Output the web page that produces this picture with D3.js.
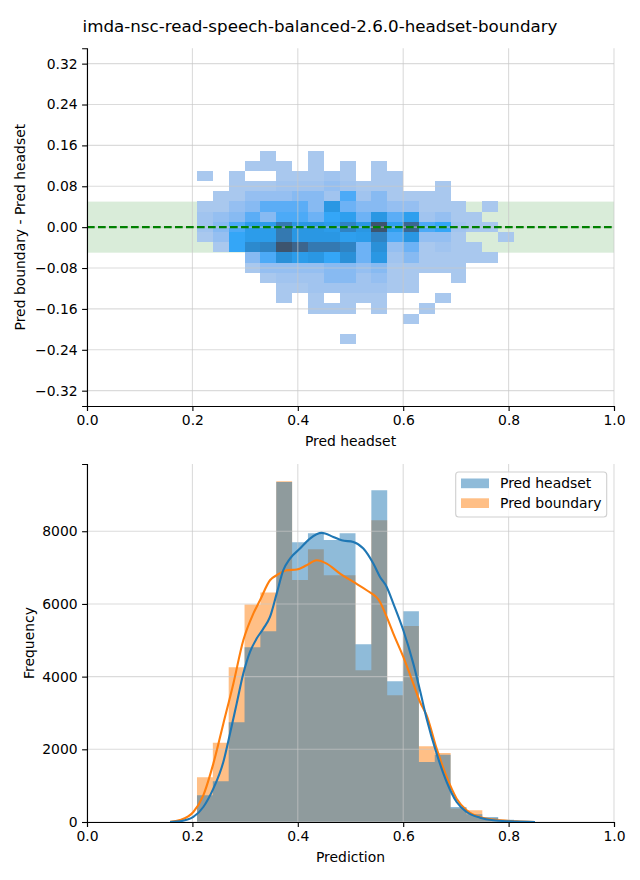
<!DOCTYPE html>
<html><head><meta charset="utf-8">
<script src="https://cdn.jsdelivr.net/npm/d3@7"></script>
<style>body{margin:0;background:#fff}svg{display:block}text{font-family:"DejaVu Sans",sans-serif;fill:#000}</style>
</head><body><div id="chart"></div>
<script>
// ---------- data ----------
const title = "imda-nsc-read-speech-balanced-2.6.0-headset-boundary";
const xTicks = [0, 0.2, 0.4, 0.6, 0.8, 1.0];
const diffTicks = [0.32, 0.24, 0.16, 0.08, 0, -0.08, -0.16, -0.24, -0.32];
const freqTicks = [0, 2000, 4000, 6000, 8000];
// shared prediction bin grid (20 bins)
const binStart = 0.2087, binWidth = 0.03008, nBins = 20;
// difference bins (19 rows, from top edge downwards)
const diffTop = 0.1500, diffHeight = 0.01994;
// 2D histogram counts: rows = difference bins (top -> bottom), cols = headset bins
const heatCounts = [
  [0,0,0,0,30,0,0,30,0,0, 0,0,0,0,0,0,0,0,0,0],
  [0,0,0,30,30,30,0,30,0,30, 0,30,0,0,0,0,0,0,0,0],
  [30,0,30,0,0,30,30,30,110,30, 0,30,30,0,0,0,0,0,0,0],
  [0,0,30,30,30,110,110,110,210,110, 30,30,30,0,0,30,0,0,0,0],
  [0,30,30,210,210,210,320,320,110,680, 110,320,30,30,30,30,0,0,0,0],
  [30,30,210,320,600,600,600,320,1060,500, 320,320,210,210,30,30,30,0,30,0],
  [110,210,320,600,320,680,680,500,770,900, 500,1060,600,900,110,210,30,30,0,0],
  [110,320,680,960,960,1650,1060,1060,960,1450, 1060,2400,900,2000,680,770,110,30,30,0],
  [30,210,770,960,960,1650,1060,1060,1060,900, 960,1450,680,1060,210,210,30,0,0,30],
  [0,30,770,1320,1450,2400,2050,1650,1650,1450, 500,1200,210,500,30,110,30,30,0,0],
  [0,0,0,320,680,1200,960,1060,770,1200, 500,1060,110,320,30,30,30,30,30,0],
  [0,0,0,30,210,210,210,210,320,320, 210,320,30,30,30,30,30,0,0,0],
  [0,0,0,0,30,110,110,110,320,320, 110,210,30,30,0,0,30,0,0,0],
  [0,0,0,0,0,30,30,110,110,110, 110,110,30,30,0,0,0,0,0,0],
  [0,0,0,0,0,30,0,30,0,30, 30,30,0,0,0,30,0,0,0,0],
  [0,0,0,0,0,0,0,30,30,30, 0,30,0,0,30,0,0,0,0,0],
  [0,0,0,0,0,0,0,0,0,0, 0,0,0,30,0,0,0,0,0,0],
  [0,0,0,0,0,0,0,0,0,0, 0,0,0,0,0,0,0,0,0,0],
  [0,0,0,0,0,0,0,0,0,30, 0,0,0,0,0,0,0,0,0,0]
];
const bandHalf = 0.05;
const seriesNames = ["Pred headset", "Pred boundary"];
const headsetCounts = [734,1119,2743,4807,5248,9358,7697,7945,7761,7945,4890,9128,3872,5798,1651,1850,413,211,138,64];
const boundaryCounts = [1229,2183,4257,5982,6312,9376,6661,7505,6789,6789,4174,8303,3486,5394,2083,1900,370,321,110,50];
const headsetKdeX = [0.1575,0.1765,0.2018,0.2207,0.2397,0.2587,0.2713,0.2840,0.2966,0.3093,0.3219,0.3346,0.3472,0.3599,0.3725,0.3852,0.4042,0.4231,0.4453,0.4674,0.4832,0.5054,0.5244,0.5433,0.5560,0.5687,0.5813,0.6002,0.6192,0.6318,0.6445,0.6635,0.6825,0.7014,0.7204,0.7457,0.7710,0.8027,0.8501];
const headsetKdeY = [0,18,138,413,917,1651,2431,3257,4083,4679,5046,5321,5642,6284,6927,7248,7523,7798,7954,7844,7752,7706,7523,7110,6743,6468,6009,5275,4358,3624,2844,1881,1101,550,275,119,46,18,0];
const boundaryKdeX = [0.1575,0.1765,0.2018,0.2207,0.2397,0.2587,0.2777,0.2966,0.3156,0.3283,0.3472,0.3599,0.3788,0.3978,0.4168,0.4358,0.4548,0.4801,0.5054,0.5307,0.5560,0.5687,0.5813,0.6002,0.6192,0.6318,0.6445,0.6635,0.6825,0.7014,0.7204,0.7521,0.7837,0.8153,0.8501];
const boundaryKdeY = [9,55,275,734,1606,2706,3807,5000,5734,6101,6651,6789,6927,6945,7064,7202,7110,6835,6606,6376,6055,5642,5183,4541,3807,3303,2936,2018,1239,642,321,110,46,18,0];

// ---------- seaborn-like colormap (husl based) ----------
const husl = (() => {
  const m = [[3.2406,-1.5372,-0.4986],[-0.9689,1.8758,0.0415],[0.0557,-0.2040,1.0570]];
  const mInv = [[0.4124,0.3576,0.1805],[0.2126,0.7152,0.0722],[0.0193,0.1192,0.9505]];
  const refU = 0.19784, refV = 0.46834, labE = 0.008856, labK = 903.3;
  function maxChroma(L, H) {
    const hr = H*Math.PI/180, sinH = Math.sin(hr), cosH = Math.cos(hr);
    const sub1 = Math.pow(L+16,3)/1560896, sub2 = sub1 > 0.008856 ? sub1 : L/903.3;
    let res = Infinity;
    for (const [m1,m2,m3] of m) {
      const top = (0.99915*m1 + 1.05122*m2 + 1.14460*m3)*sub2;
      const rb = 0.86330*m3 - 0.17266*m2, lb = 0.12949*m3 - 0.38848*m1;
      const bottom = (rb*sinH + lb*cosH)*sub2;
      for (const t of [0,1]) {
        const C = L*(top - 1.05122*t)/(bottom + 0.17266*sinH*t);
        if (C > 0 && C < res) res = C;
      }
    }
    return res;
  }
  const f = t => t > labE ? Math.cbrt(t) : 7.787*t + 16/116;
  const fInv = t => Math.pow(t,3) > labE ? Math.pow(t,3) : (116*t-16)/labK;
  const fromLin = c => c <= 0.0031308 ? 12.92*c : 1.055*Math.pow(c,1/2.4) - 0.055;
  const toLin = c => c > 0.04045 ? Math.pow((c+0.055)/1.055,2.4) : c/12.92;
  const dot = (a,b) => a[0]*b[0]+a[1]*b[1]+a[2]*b[2];
  function toHusl(r,g,b){
    const l=[toLin(r),toLin(g),toLin(b)];
    const [X,Y,Z]=mInv.map(row=>dot(row,l));
    const d=X+15*Y+3*Z, vu=4*X/d, vv=9*Y/d;
    const L=116*f(Y)-16, U=13*L*(vu-refU), V=13*L*(vv-refV);
    const C=Math.hypot(U,V); let H=Math.atan2(V,U)*180/Math.PI; if(H<0)H+=360;
    return [H, C/maxChroma(L,H)*100, L];
  }
  function fromHusl(H,S,L){
    const C=maxChroma(L,H)/100*S, hr=H*Math.PI/180;
    const U=Math.cos(hr)*C, V=Math.sin(hr)*C;
    const Y=fInv((L+16)/116), vu=U/(13*L)+refU, vv=V/(13*L)+refV;
    const X=-(9*Y*vu)/((vu-4)*vv-vu*vv);
    const Z=(9*Y-15*vv*Y-vv*X)/(3*vv);
    return m.map(row=>Math.min(1,Math.max(0,fromLin(dot(row,[X,Y,Z])))));
  }
  return {toHusl, fromHusl};
})();
const [h0, s0] = husl.toHusl(31/255,119/255,180/255);
const lut = [];
{ const n = Math.floor(1.15*256);
  for (let j=0;j<256;j++){ const xx=-1+2*j/(n-1); const L=35+45*j/255;
    const c=husl.fromHusl(h0, s0*Math.cos(xx), L);
    lut.push(d3.rgb(c[0]*255,c[1]*255,c[2]*255).formatHex()); }
  lut.reverse(); }
const vmax = d3.max(heatCounts.flat());
const cmap = v => lut[Math.min(255, Math.floor(v/vmax*256))];

// ---------- layout ----------
const W = 640, H = 880;
const svg = d3.select("#chart").append("svg").attr("width", W).attr("height", H);
const L0 = 87, R0 = 614;
const C0 = "#1f77b4", C1 = "#ff7f0e";
const gridStroke = "#c8c8c8", gridOp = 0.65;
const fs = 13.9;

svg.append("text").attr("x", 320).attr("y", 32).attr("text-anchor","middle")
  .style("font-size","16.7px").text(title);

// ===== top: 2D histogram =====
const x1 = d3.scaleLinear().domain([0,1]).range([L0,R0]);
const y1 = d3.scaleLinear().domain([-0.35,0.35]).range([406,48.3]);
const g1 = svg.append("g");
g1.append("rect").attr("x",x1(0)).attr("width",x1(1)-x1(0))
  .attr("y",y1(bandHalf)).attr("height",y1(-bandHalf)-y1(bandHalf))
  .attr("fill","green").attr("fill-opacity",0.15);
const cells = [];
heatCounts.forEach((row,r)=>row.forEach((v,k)=>{ if(v>0) cells.push({r,k,v}); }));
g1.selectAll("rect.cell").data(cells).join("rect").attr("class","cell")
  .attr("x", d=>x1(binStart+d.k*binWidth))
  .attr("width", d=>x1(binStart+(d.k+1)*binWidth)-x1(binStart+d.k*binWidth))
  .attr("y", d=>y1(diffTop-d.r*diffHeight))
  .attr("height", d=>y1(diffTop-(d.r+1)*diffHeight)-y1(diffTop-d.r*diffHeight))
  .attr("fill", d=>cmap(d.v)).attr("shape-rendering","crispEdges");
// grid
g1.selectAll("line.gx").data(xTicks).join("line").attr("x1",d=>x1(d)).attr("x2",d=>x1(d))
  .attr("y1",y1(0.35)).attr("y2",y1(-0.35)).attr("stroke",gridStroke).attr("stroke-opacity",gridOp).attr("stroke-width",1.1);
g1.selectAll("line.gy").data(diffTicks).join("line").attr("x1",x1(0)).attr("x2",x1(1))
  .attr("y1",d=>y1(d)).attr("y2",d=>y1(d)).attr("stroke",gridStroke).attr("stroke-opacity",gridOp).attr("stroke-width",1.1);
g1.append("line").attr("x1",x1(0)).attr("x2",x1(1)).attr("y1",y1(0)).attr("y2",y1(0))
  .attr("stroke","green").attr("stroke-width",2.1).attr("stroke-dasharray","7.7,3.3");
// axes
svg.append("g").attr("transform",`translate(0,406)`)
  .call(d3.axisBottom(x1).tickValues(xTicks).tickFormat(d3.format(".1f")).tickSizeOuter(0).tickSize(4.9).tickPadding(4.5));
svg.append("g").attr("transform",`translate(${L0},0)`)
  .call(d3.axisLeft(y1).tickValues(diffTicks).tickFormat(d3.format(".2f")).tickSizeOuter(0).tickSize(4.9).tickPadding(4.5));
svg.append("text").attr("x",(L0+R0)/2).attr("y",446).attr("text-anchor","middle").style("font-size",fs+"px").text("Pred headset");
svg.append("text").attr("transform",`translate(25,${y1(0)}) rotate(-90)`).attr("text-anchor","middle").style("font-size",fs+"px").text("Pred boundary - Pred headset");

// ===== bottom: histogram + kde =====
const y2 = d3.scaleLinear().domain([0,9850]).range([822,464]);
const g2 = svg.append("g");
// each series as one stepped area (no overlapping bar seams)
const histArea = d3.area().x(d=>x1(d[0])).y0(y2(0)).y1(d=>y2(d[1])).curve(d3.curveStepAfter);
const stepPts = counts => counts.map((c,i)=>[binStart+i*binWidth, c]).concat([[binStart+counts.length*binWidth, counts[counts.length-1]]]);
g2.append("path").datum(stepPts(boundaryCounts)).attr("d",histArea).attr("fill",C1).attr("fill-opacity",0.5);
g2.append("path").datum(stepPts(headsetCounts)).attr("d",histArea).attr("fill",C0).attr("fill-opacity",0.5);
g2.selectAll("line.gx").data(xTicks).join("line").attr("x1",d=>x1(d)).attr("x2",d=>x1(d))
  .attr("y1",464).attr("y2",822).attr("stroke",gridStroke).attr("stroke-opacity",gridOp).attr("stroke-width",1.1);
g2.selectAll("line.gy").data(freqTicks).join("line").attr("x1",x1(0)).attr("x2",x1(1))
  .attr("y1",d=>y2(d)).attr("y2",d=>y2(d)).attr("stroke",gridStroke).attr("stroke-opacity",gridOp).attr("stroke-width",1.1);
const line = d3.line().x(d=>x1(d[0])).y(d=>y2(d[1])).curve(d3.curveMonotoneX);
g2.append("path").datum(d3.zip(boundaryKdeX,boundaryKdeY)).attr("d",line).attr("fill","none").attr("stroke",C1).attr("stroke-width",2.1);
g2.append("path").datum(d3.zip(headsetKdeX,headsetKdeY)).attr("d",line).attr("fill","none").attr("stroke",C0).attr("stroke-width",2.1);
svg.append("g").attr("transform",`translate(0,822)`)
  .call(d3.axisBottom(x1).tickValues(xTicks).tickFormat(d3.format(".1f")).tickSizeOuter(0).tickSize(4.9).tickPadding(4.5));
svg.append("g").attr("transform",`translate(${L0},0)`)
  .call(d3.axisLeft(y2).tickValues(freqTicks).tickFormat(d3.format("d")).tickSizeOuter(0).tickSize(4.9).tickPadding(4.5));
svg.append("text").attr("x",(L0+R0)/2).attr("y",862).attr("text-anchor","middle").style("font-size",fs+"px").text("Prediction");
svg.append("text").attr("transform",`translate(34,643) rotate(-90)`).attr("text-anchor","middle").style("font-size",fs+"px").text("Frequency");

// axis styling
svg.selectAll(".tick text").style("font-size",fs+"px").style("font-family","DejaVu Sans");
svg.selectAll(".domain").attr("stroke","#000").attr("stroke-width",1.1);
svg.selectAll(".tick line").attr("stroke","#000").attr("stroke-width",1.1);

// legend
const lg = svg.append("g");
lg.append("rect").attr("x",455.7).attr("y",472).attr("width",151).attr("height",45).attr("rx",3)
  .attr("fill","#fff").attr("fill-opacity",0.8).attr("stroke","#d0d0d0").attr("stroke-width",1.1);
[[C0,seriesNames[0]],[C1,seriesNames[1]]].forEach(([c,t],i)=>{
  lg.append("rect").attr("x",461).attr("y",478.5+i*19.8).attr("width",28).attr("height",9.7).attr("fill",c).attr("fill-opacity",0.5);
  lg.append("text").attr("x",500).attr("y",488+i*19.8).style("font-size",fs+"px").text(t);
});
</script></body></html>
